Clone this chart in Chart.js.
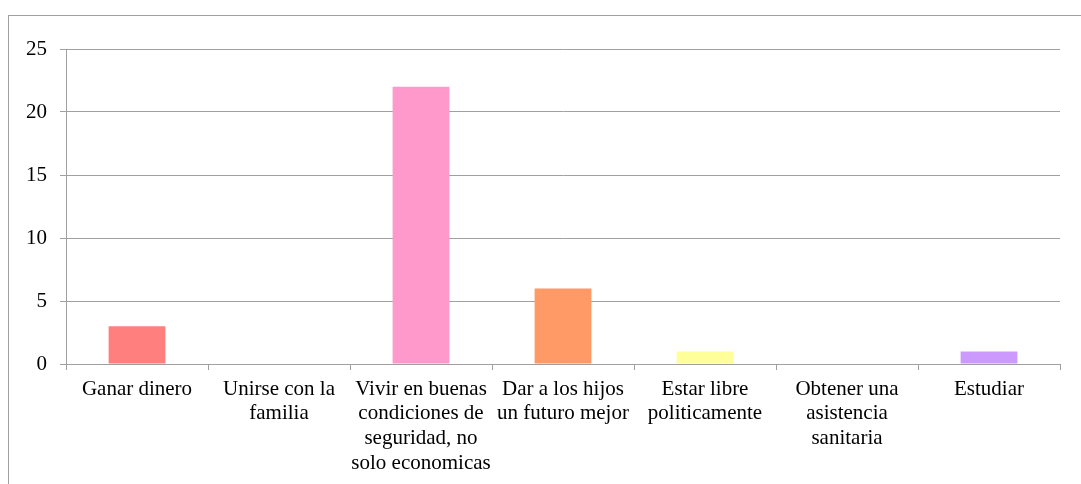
<!DOCTYPE html>
<html>
<head>
<meta charset="utf-8">
<script src="https://cdn.jsdelivr.net/npm/chart.js@4"></script>
<style>
  body { margin: 0; background: #fff; }
  #frame { position: absolute; left: 8px; top: 15px; width: 1100px; height: 500px; border: 1px solid #a0a0a0; }
  #wrap { position: absolute; left: 0; top: 0; width: 1081px; height: 484px; }
</style>
</head>
<body>
<div id="frame"></div>
<div id="wrap"><canvas id="chart"></canvas></div>
<script>
// categories (multi-line labels as drawn)
const categories = [
  ["Ganar dinero"],
  ["Unirse con la", "familia"],
  ["Vivir en buenas", "condiciones de", "seguridad, no", "solo economicas"],
  ["Dar a los hijos", "un futuro mejor"],
  ["Estar libre", "politicamente"],
  ["Obtener una", "asistencia", "sanitaria"],
  ["Estudiar"]
];
const values = [3, 0, 22, 6, 1, 0, 1];
const barColors = ["#ff7f7f", "#ff99cc", "#ff99cc", "#ff9966", "#ffff99", "#ccccff", "#cc99ff"];
const yTicks = [0, 5, 10, 15, 20, 25];

const gridColor = "#a0a0a0";
const font = { family: "'Liberation Serif', 'Times New Roman', serif", size: 21, lineHeight: 1.17 };

new Chart(document.getElementById("chart"), {
  type: "bar",
  data: {
    labels: categories,
    datasets: [{
      data: values,
      backgroundColor: barColors,
      borderWidth: 0,
      barPercentage: 0.4,
      categoryPercentage: 1.0
    }]
  },
  options: {
    responsive: true,
    maintainAspectRatio: false,
    animation: false,
    layout: { padding: { left: 0, right: 21, top: 49, bottom: 0 } },
    plugins: { legend: { display: false }, tooltip: { enabled: false } },
    scales: {
      x: {
        grid: { display: true, drawOnChartArea: false, color: gridColor, tickLength: 6, offset: true },
        border: { color: gridColor, width: 1 },
        ticks: { color: "#000", font: font, maxRotation: 0, autoSkip: false, padding: 7 },
        afterFit: function (scale) { scale.height = 120; }
      },
      y: {
        min: 0,
        max: 25,
        afterBuildTicks: function (scale) { scale.ticks = yTicks.map(v => ({ value: v })); },
        grid: { color: gridColor, tickLength: 6 },
        border: { color: gridColor, width: 1 },
        ticks: { color: "#000", font: font, padding: 13 },
        afterFit: function (scale) { scale.width = 66; }
      }
    }
  }
});
</script>
</body>
</html>
